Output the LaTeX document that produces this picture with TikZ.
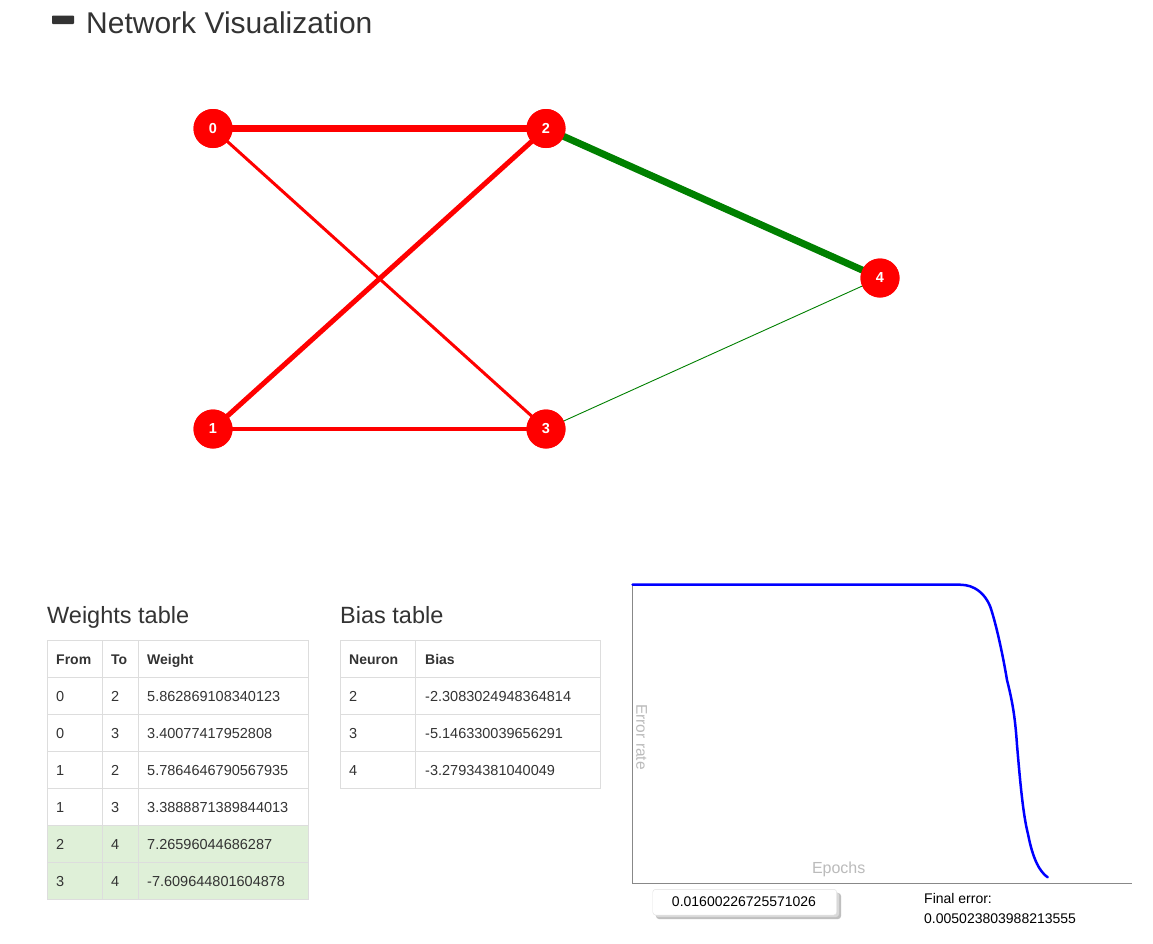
\documentclass[tikz,border=0pt]{standalone}
\usepackage{fontspec}
\setmainfont{Liberation Sans}
\definecolor{txt}{HTML}{333333}
\definecolor{cellline}{HTML}{DDDDDD}
\definecolor{okbg}{HTML}{DFF0D8}
\definecolor{edgegreen}{HTML}{008000}
\definecolor{axisgray}{HTML}{888888}
\definecolor{labgray}{HTML}{BBBBBB}
\begin{document}
\begin{tikzpicture}[x=1pt,y=-1pt,
  neuron/.style={circle,fill=red,draw=none,minimum size=39pt,inner sep=0pt,text=white,font=\fontsize{14.5}{16}\selectfont\bfseries},
  redge/.style={draw=red},
  gedge/.style={draw=edgegreen},
  cell/.style={anchor=base west,text=txt,font=\fontsize{14.5}{17}\selectfont,inner sep=0pt},
  hcell/.style={cell,font=\fontsize{14}{17}\selectfont\bfseries},
  ttl/.style={anchor=base west,text=txt,font=\fontsize{23.5}{28}\selectfont,inner sep=0pt},
  grid/.style={draw=cellline,line width=1pt},
  plain/.style={anchor=base west,text=black,font=\fontsize{14}{17}\selectfont,inner sep=0pt}
]
\useasboundingbox[fill=white] (0,0) rectangle (1153,943);

% title
\fill[txt,rounded corners=0.8pt] (52,15.5) rectangle (74,24);
\node[anchor=base west,text=txt,font=\fontsize{30}{36}\selectfont,inner sep=0pt] (title) at (86,33) {Network Visualization};

% network
\node[neuron] (n0) at (213,128.5) {0};
\node[neuron] (n2) at (546,128.5) {2};
\node[neuron] (n4) at (880,278) {4};
\node[neuron] (n1) at (213,429) {1};
\node[neuron] (n3) at (546,429) {3};
\draw[redge,line width=3pt] (n0.center) -- (n3.center);
\draw[redge,line width=5pt] (n1.center) -- (n2.center);
\draw[redge,line width=3.3pt] (n1.center) -- (n3.center);
\draw[redge,line width=6.5pt] (n0.center) -- (n2.center);
\draw[gedge,line width=7pt] (n2.center) -- (n4.center);
\draw[gedge,line width=0.9pt] (n3.center) -- (n4.center);
\node[neuron] at (n0) {0};
\node[neuron] at (n2) {2};
\node[neuron] at (n4) {4};
\node[neuron] at (n1) {1};
\node[neuron] at (n3) {3};

% weights table
\node[ttl] (wt) at (47,623) {Weights table};
\fill[okbg] (47.5,825.5) rectangle (308,899);
\draw[grid] (47.5,640.5) rectangle (308,899);
\foreach \yy in {677.5,714.5,751.5,788.5,825.5,862.5} \draw[grid] (47.5,\yy) -- (308,\yy);
\draw[grid] (102.5,640.5) -- (102.5,899);
\draw[grid] (138.5,640.5) -- (138.5,899);
\node[hcell] (wh1) at (56,664) {From};
\node[hcell] (wh2) at (111,664) {To};
\node[hcell] (wh3) at (147,664) {Weight};
\foreach \f/\t/\w [count=\i from 0] in {0/2/5.862869108340123,0/3/3.40077417952808,1/2/5.7864646790567935,1/3/3.3888871389844013,2/4/7.26596044686287,3/4/-7.609644801604878}{
  \node[cell] (wf\i) at (56,701+37*\i) {\f};
  \node[cell] (wto\i) at (111,701+37*\i) {\t};
  \node[cell] (ww\i) at (147,701+37*\i) {\w};
}

% bias table
\node[ttl] (bt) at (340,623) {Bias table};
\draw[grid] (340,640.5) rectangle (600,788.5);
\foreach \yy in {677.5,714.5,751.5} \draw[grid] (340,\yy) -- (600,\yy);
\draw[grid] (415.5,640.5) -- (415.5,788.5);
\node[hcell] (bh1) at (349,664) {Neuron};
\node[hcell] (bh2) at (425,664) {Bias};
\foreach \n/\b [count=\i from 0] in {2/-2.3083024948364814,3/-5.146330039656291,4/-3.27934381040049}{
  \node[cell] (bn\i) at (349,701+37*\i) {\n};
  \node[cell] (bb\i) at (425,701+37*\i) {\b};
}

% chart
\coordinate (ctop) at (632.5,584.7);
\coordinate (corig) at (632.5,883.3);
\coordinate (cend) at (1132,883.3);
\draw[axisgray,line width=1pt] (ctop) -- (corig) -- (cend);
\draw[blue,line width=2.5pt,line join=round,line cap=round]
  (632.5,584.7) -- (960,584.7)
  .. controls (975,584.7) and (985,594) .. (990,606)
  .. controls (995,620) and (1002,650) .. (1007,680)
  .. controls (1012,700) and (1015,715) .. (1017,745)
  .. controls (1020,780) and (1023,815) .. (1028,834)
  .. controls (1033,860) and (1040,872) .. (1047.7,877.3);
\node[text=labgray,font=\fontsize{15.5}{18}\selectfont,rotate=-90,inner sep=0pt] (elab) at (641.5,737) {Error rate};
\node[anchor=base,text=labgray,font=\fontsize{16}{19}\selectfont,inner sep=0pt] (eplab) at (838.7,873.3) {Epochs};

% value box
\fill[black!25,rounded corners=3pt] (656,893) rectangle (841,919);
\fill[black!15,rounded corners=3pt] (655,892) rectangle (839,917);
\draw[draw=black!12,fill=white,rounded corners=3pt] (652.7,889.3) rectangle (836.7,915);
\node[anchor=base,text=black,font=\fontsize{14}{17}\selectfont,inner sep=0pt] (val) at (744,906.7) {0.01600226725571026};

\node[plain] (fe1) at (924,903.3) {Final error:};
\node[plain] (fe2) at (924,923.3) {0.005023803988213555};
\end{tikzpicture}
\end{document}
